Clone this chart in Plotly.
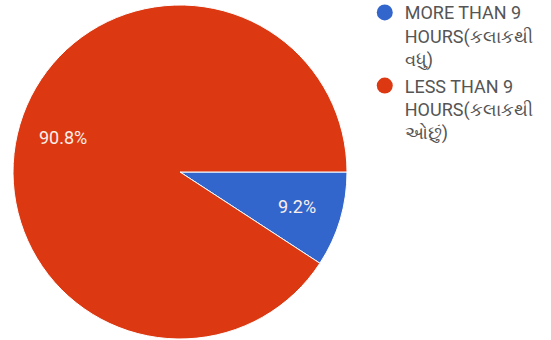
import math
import plotly.graph_objects as go

labels = ["MORE THAN 9<br>HOURS(કલાકથી<br>વધુ)", "LESS THAN 9<br>HOURS(કલાકથી<br>ઓછું)"]
values = [9.2, 90.8]
colors = ["#3366CC", "#DC3912"]

W, H = 551, 340
cx, cy, R = 180, 172, 167  # pixel geometry of pie

fig = go.Figure()
fig.add_trace(go.Pie(
    labels=labels, values=values, sort=False, direction="clockwise", rotation=90,
    marker=dict(colors=colors, line=dict(color="white", width=1)),
    textinfo="none", showlegend=False, hoverinfo="label+percent",
    domain=dict(x=[(cx - R) / W, (cx + R) / W], y=[(H - cy - R) / H, (H - cy + R) / H]),
))
for lab, col in zip(labels, colors):
    fig.add_trace(go.Scatter(x=[None], y=[None], mode="markers", name=lab,
                             marker=dict(color=col, size=17, symbol="circle")))

# percent labels placed at slice mid-angles
total = sum(values)
start = 0.0  # degrees clockwise from 3 o'clock
annotations = []
for v in values:
    mid = start + 360 * v / total / 2
    start += 360 * v / total
    a = math.radians(mid)
    px = cx + 0.73 * R * math.cos(a)
    py = cy + 0.73 * R * math.sin(a)
    annotations.append(dict(x=px / W, y=1 - py / H, xref="paper", yref="paper",
                            xanchor="center", yanchor="middle",
                            text=f"{v / total * 100:.1f}%", showarrow=False,
                            font=dict(family="Roboto", size=18, color="#FBEFEA")))

fig.update_layout(
    width=W, height=H, margin=dict(l=0, r=0, t=0, b=0, autoexpand=False),
    paper_bgcolor="white", plot_bgcolor="white",
    xaxis=dict(visible=False), yaxis=dict(visible=False),
    annotations=annotations,
    legend=dict(x=0.662, y=1.017, xanchor="left", yanchor="top", valign="top",
                font=dict(family="Roboto", size=18, color="#555555"),
                itemsizing="trace", tracegroupgap=4, bgcolor="rgba(0,0,0,0)"),
)
fig.write_html("out.html", config={"displayModeBar": False},
               post_script="document.body.style.margin='0';")
